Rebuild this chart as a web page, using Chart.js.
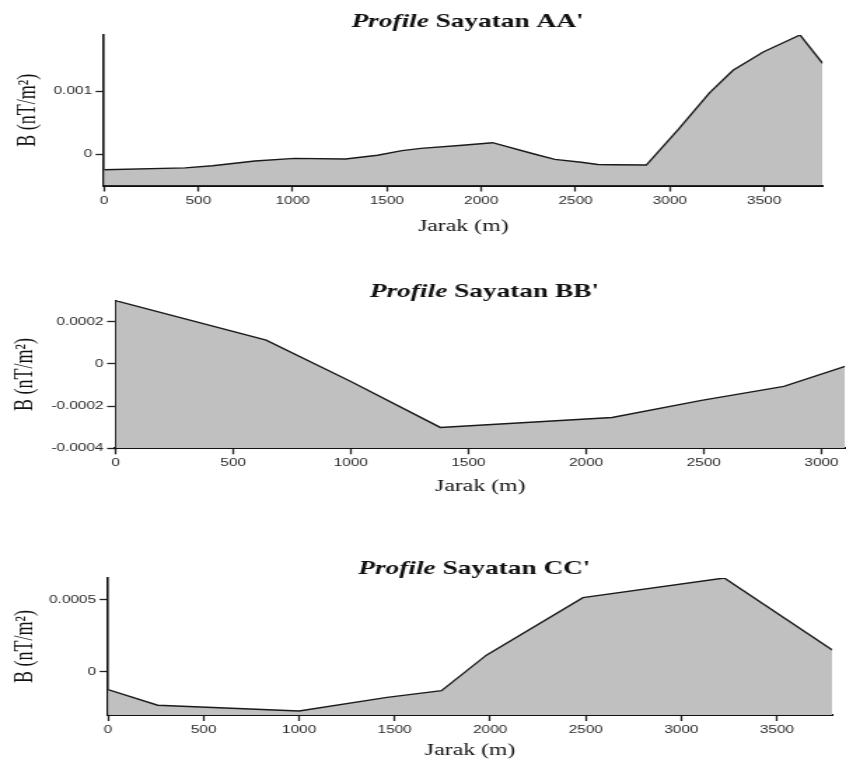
<!DOCTYPE html>
<html><head><meta charset="utf-8">
<script src="https://cdn.jsdelivr.net/npm/chart.js@4"></script>
<style>
html,body{margin:0;padding:0;background:#fff;width:846px;height:762px;overflow:hidden}
.wrap{position:absolute;left:0;width:604px;transform:scaleX(1.4007);transform-origin:0 0}
</style></head><body>
<div class="wrap" style="top:0;height:245px"><canvas id="c1"></canvas></div>
<div class="wrap" style="top:270px;height:240px"><canvas id="c2"></canvas></div>
<div class="wrap" style="top:540px;height:222px"><canvas id="c3"></canvas></div>
<script>
// ---- data ----
const distAA = [0, 430, 575, 800, 1010, 1280, 1450, 1580, 1680, 1900, 2060, 2280, 2390, 2530, 2618, 2700, 2875, 3045, 3210, 3335, 3495, 3690, 3810];
const valAA  = [-0.00025, -0.00022, -0.000187, -0.00011, -0.00007, -0.00008, -0.00002, 0.000053, 0.00009, 0.00014, 0.00018, 0.0, -0.000086, -0.00013, -0.000166, -0.00017, -0.000175, 0.00039, 0.00097, 0.00133, 0.00162, 0.00189, 0.00144];
const distBB = [0, 640, 1000, 1380, 2110, 2490, 2840, 3100];
const valBB  = [0.0003, 0.000113, -0.000083, -0.000301, -0.000254, -0.000173, -0.000106, -0.000012];
const distCC = [0, 260, 1000, 1460, 1745, 1980, 2485, 3225, 3790];
const valCC  = [-0.000124, -0.000232, -0.000272, -0.000178, -0.000131, 0.000115, 0.000514, 0.00065, 0.00015];

const xTicksAA = [0, 500, 1000, 1500, 2000, 2500, 3000, 3500];
const xTicksBB = [0, 500, 1000, 1500, 2000, 2500, 3000];
const xTicksCC = [0, 500, 1000, 1500, 2000, 2500, 3000, 3500];
const yTicksAA = [0, 0.001];
const yTickLabelsAA = ['0', '0.001'];
const yTicksBB = [-0.0004, -0.0002, 0, 0.0002];
const yTickLabelsBB = ['-0.0004', '-0.0002', '0', '0.0002'];
const yTicksCC = [0, 0.0005];
const yTickLabelsCC = ['0', '0.0005'];

const titleAA = ['Profile', " Sayatan AA'"];
const titleBB = ['Profile', " Sayatan BB'"];
const titleCC = ['Profile', " Sayatan CC'"];
const xLabel = 'Jarak (m)';
const yLabel = 'B (nT/m\u00B2)';

// ---- drawing ----
const serif = "'Liberation Serif', 'Times New Roman', serif";
const sans = "'Liberation Sans', Arial, sans-serif";

const titlePlugin = {
  id: 'mixedTitle',
  afterDraw(chart, args, opts) {
    const ctx = chart.ctx;
    const a = chart.chartArea;
    ctx.save();
    ctx.fillStyle = '#111';
    ctx.textBaseline = 'alphabetic';
    const f1 = "italic bold 19.5px " + serif;
    const f2 = "bold 19.5px " + serif;
    ctx.font = f1; const w1 = ctx.measureText(opts.parts[0]).width;
    ctx.font = f2; const w2 = ctx.measureText(opts.parts[1]).width;
    const cx = (a.left + a.right) / 2 + opts.dx;
    let x = cx - (w1 + w2) / 2;
    ctx.font = f1; ctx.fillText(opts.parts[0], x, opts.y);
    ctx.font = f2; ctx.fillText(opts.parts[1], x + w1, opts.y);
    ctx.restore();
  }
};

function makeChart(id, dist, vals, xTicks, yTicks, yLabels, parts, L) {
  const axisGrid = {display: true, drawOnChartArea: false, drawTicks: true, tickLength: 6, tickColor: '#222', tickWidth: 1.3};
  new Chart(document.getElementById(id), {
    type: 'line',
    data: {
      datasets: [{
        data: dist.map((d, i) => ({x: d, y: vals[i]})),
        borderColor: '#1a1a1a',
        borderWidth: 1.4,
        backgroundColor: '#c0c0c0',
        fill: 'start',
        pointRadius: 0,
        tension: 0
      }]
    },
    options: {
      responsive: true,
      maintainAspectRatio: false,
      animation: false,
      events: [],
      layout: {padding: {left: 0, right: L.padR, top: L.padT, bottom: 0}},
      plugins: {legend: {display: false}, tooltip: {enabled: false}, title: {display: false},
                mixedTitle: {parts: parts, y: L.titleY, dx: 3}},
      scales: {
        x: {
          type: 'linear', min: L.xmin, max: L.xmax,
          afterBuildTicks: s => { s.ticks = xTicks.map(v => ({value: v})); },
          afterFit: s => { s.height = L.xH; },
          ticks: {font: {family: sans, size: 11}, color: '#2a2a2a', padding: 2.4, maxRotation: 0, autoSkip: false,
                  callback: (v) => String(v)},
          grid: axisGrid,
          border: {display: true, color: '#111', width: 2},
          title: {display: true, text: xLabel, color: '#111', font: {family: serif, size: 17},
                  padding: {top: 0, bottom: L.xTitlePad}}
        },
        y: {
          type: 'linear', min: L.ymin, max: L.ymax,
          afterBuildTicks: s => { s.ticks = yTicks.map(v => ({value: v})); },
          afterFit: s => { s.width = L.yW; },
          ticks: {font: {family: sans, size: 11}, color: '#2a2a2a', padding: 2.5, autoSkip: false,
                  callback: (v, i) => yLabels[i]},
          grid: axisGrid,
          border: {display: true, color: '#111', width: 1.6},
          title: {display: true, text: yLabel, color: '#111', font: {family: serif, size: 18},
                  padding: {top: L.yTitlePad, bottom: 0}}
        }
      }
    },
    plugins: [titlePlugin]
  });
}

makeChart('c1', distAA, valAA, xTicksAA, yTicksAA, yTickLabelsAA, titleAA,
  {xmin: 0, xmax: 3810, ymin: -0.0005, ymax: 0.00189, padR: 16.7, padT: 35, xH: 59.5, yW: 74.25,
   xTitlePad: 7.8, yTitlePad: 9.6, titleY: 26.7});
makeChart('c2', distBB, valBB, xTicksBB, yTicksBB, yTickLabelsBB, titleBB,
  {xmin: 0, xmax: 3100, ymin: -0.0004, ymax: 0.0003, padR: 0, padT: 30.7, xH: 61.7, yW: 82.46,
   xTitlePad: 12.8, yTitlePad: 7.8, titleY: 27});
makeChart('c3', distCC, valCC, xTicksCC, yTicksCC, yTickLabelsCC, titleCC,
  {xmin: 0, xmax: 3790, ymin: -0.0003, ymax: 0.00065, padR: 9.8, padT: 38, xH: 47, yW: 77.1,
   xTitlePad: 0.8, yTitlePad: 7.8, titleY: 34});
</script>
</body></html>
